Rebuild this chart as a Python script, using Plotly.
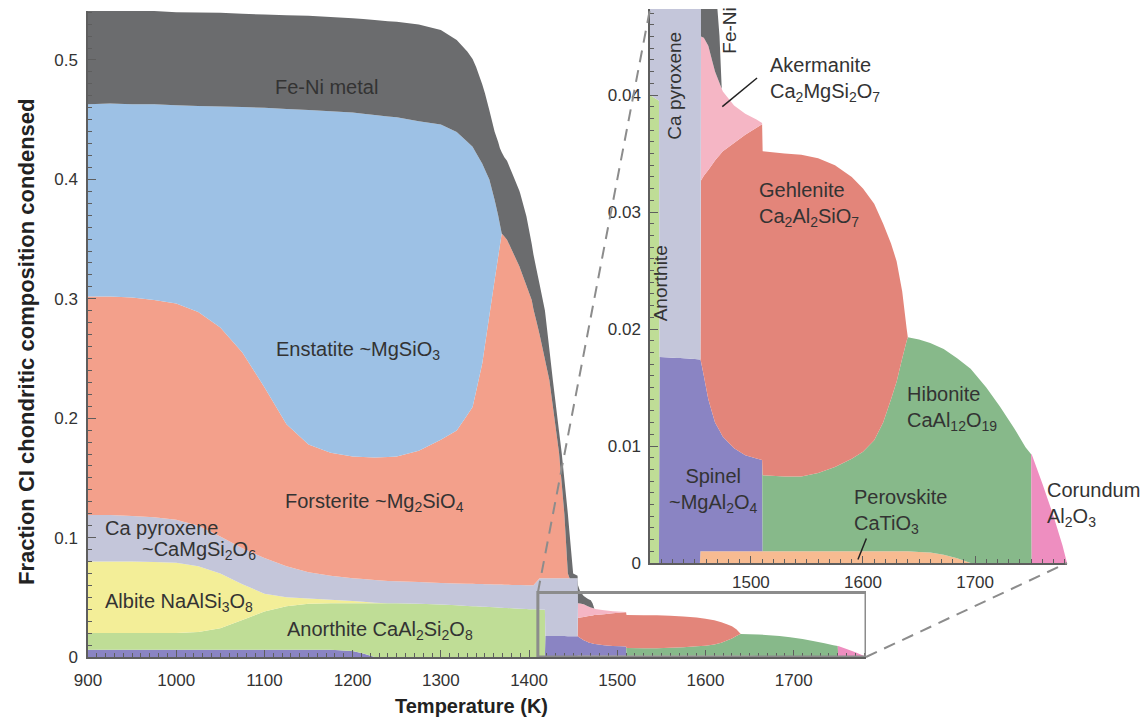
import plotly.graph_objects as go

W, H = 1143, 721

# ---------------- data (fraction of CI composition condensed, per phase) ----------------
perov_T = [1454.5, 1455, 1640, 1650, 1660, 1672, 1684, 1696]
perov_v = [0, 0.001, 0.001, 0.00095, 0.0009, 0.0007, 0.0004, 0]

spinel_T = [900, 1175, 1200, 1212, 1225, 1418, 1418.5, 1440, 1454.5, 1455, 1455.5, 1458, 1462,
            1468, 1475, 1485, 1495, 1510, 1510.5]
spinel_v = [0.006, 0.006, 0.005, 0.003, 0, 0, 0.0176, 0.0175, 0.0174, 0.0164, 0.0162, 0.015, 0.013,
            0.011, 0.0098, 0.0088, 0.0082, 0.0078, 0]

anorthite_T = [900, 1000, 1025, 1050, 1075, 1100, 1125, 1150, 1175, 1200, 1212, 1225, 1250, 1300,
               1350, 1400, 1410, 1418, 1418.5]
anorthite_v = [0.014, 0.014, 0.015, 0.018, 0.025, 0.032, 0.0365, 0.0385, 0.039, 0.040, 0.042, 0.045,
               0.045, 0.044, 0.042, 0.040, 0.040, 0.0395, 0]

hibonite_T = [1510, 1510.5, 1530, 1545, 1560, 1575, 1590, 1600, 1610, 1618, 1625, 1630, 1635, 1639,
              1640, 1650, 1660, 1672, 1684, 1696, 1710, 1722, 1735, 1745, 1750, 1750.5]
hibonite_v = [0, 0.0065, 0.0064, 0.0064, 0.0067, 0.0072, 0.0079, 0.0085, 0.0095, 0.011, 0.013, 0.0145,
              0.0165, 0.018, 0.0183, 0.01815, 0.0179, 0.0176, 0.0171, 0.0166, 0.0150, 0.0134, 0.0115,
              0.0099, 0.0093, 0]

corundum_T = [1750, 1750.5, 1760, 1770, 1778, 1782]
corundum_v = [0, 0.0093, 0.0068, 0.0040, 0.0015, 0]

albite_T = [900, 925, 950, 975, 1000, 1025, 1050, 1075, 1100, 1125, 1150, 1175, 1200, 1225, 1240]
albite_v = [0.060, 0.060, 0.060, 0.0595, 0.059, 0.055, 0.046, 0.030, 0.015, 0.0075, 0.0045, 0.003,
            0.002, 0.0005, 0]

gehlenite_T = [1455, 1455.5, 1458, 1462, 1468, 1475, 1485, 1495, 1510, 1510.5, 1530, 1545, 1560, 1575,
               1590, 1600, 1610, 1618, 1625, 1630, 1635, 1639, 1640]
gehlenite_v = [0, 0.0155, 0.0171, 0.0196, 0.0224, 0.0244, 0.0261, 0.0274, 0.0287, 0.0277, 0.0276,
               0.0275, 0.0269, 0.0258, 0.0241, 0.0225, 0.0202, 0.017, 0.0133, 0.0103, 0.0057, 0.001, 0]

akermanite_T = [1455, 1455.5, 1458, 1462, 1468, 1475, 1485, 1495, 1505, 1510, 1510.5]
akermanite_v = [0, 0.0123, 0.0118, 0.0106, 0.0076, 0.0051, 0.0032, 0.0018, 0.0007, 0.0001, 0]

pyroxene_T = [900, 925, 950, 975, 1000, 1025, 1050, 1075, 1100, 1125, 1150, 1175, 1200, 1225, 1250,
              1300, 1350, 1400, 1405, 1412, 1418, 1418.5, 1440, 1455, 1455.5]
pyroxene_v = [0.039, 0.039, 0.038, 0.0375, 0.036, 0.034, 0.031, 0.030, 0.030, 0.026, 0.022, 0.020,
              0.019, 0.019, 0.0185, 0.018, 0.019, 0.020, 0.020, 0.026, 0.0265, 0.0484, 0.0485, 0.0486, 0]

forsterite_T = [900, 925, 950, 975, 1000, 1025, 1050, 1075, 1100, 1125, 1150, 1175, 1200, 1225, 1250,
                1275, 1300, 1318, 1336, 1347, 1355, 1361, 1369, 1375, 1389, 1403, 1412, 1423, 1434,
                1440, 1444, 1446]
forsterite_v = [0.183, 0.183, 0.183, 0.182, 0.181, 0.179, 0.175, 0.164, 0.143, 0.119, 0.107, 0.103,
                0.102, 0.1025, 0.1045, 0.110, 0.120, 0.128, 0.148, 0.185, 0.225, 0.255, 0.294, 0.289,
                0.267, 0.239, 0.204, 0.166, 0.105, 0.054, 0.004, 0]

enstatite_T = [900, 950, 1000, 1025, 1050, 1075, 1100, 1125, 1150, 1175, 1200, 1225, 1250, 1275, 1300,
               1318, 1336, 1347, 1355, 1361, 1365, 1369]
enstatite_v = [0.161, 0.162, 0.166, 0.1725, 0.185, 0.2055, 0.234, 0.264, 0.280, 0.286, 0.288, 0.287,
               0.284, 0.276, 0.264, 0.250, 0.218, 0.167, 0.114, 0.067, 0.0345, 0]

feni_T = [900, 950, 1000, 1050, 1100, 1150, 1200, 1250, 1275, 1300, 1318, 1330, 1340, 1350, 1355, 1361,
          1367, 1369, 1372, 1381, 1390, 1397, 1403, 1408, 1412, 1418, 1423, 1427, 1434, 1437, 1440,
          1444, 1446, 1450, 1455, 1455.5, 1458, 1462, 1466, 1470, 1472, 1474]
feni_v = [0.078, 0.078, 0.078, 0.0785, 0.078, 0.079, 0.079, 0.080, 0.081, 0.079, 0.077, 0.0757, 0.072,
          0.064, 0.058, 0.057, 0.064, 0.068, 0.0665, 0.065, 0.063, 0.058, 0.047, 0.044, 0.042, 0.041,
          0.026, 0.022, 0.018, 0.0255, 0.029, 0.050, 0.037, 0.004, 0.002, 0.015, 0.010, 0.0068, 0.0062,
          0.006, 0.004, 0]

# stacking order bottom -> top
phases = [
    ("Perovskite", perov_T, perov_v, "#f7bb91"),
    ("Spinel", spinel_T, spinel_v, "#8a84c3"),
    ("Anorthite", anorthite_T, anorthite_v, "#bfdd96"),
    ("Hibonite", hibonite_T, hibonite_v, "#87b98a"),
    ("Corundum", corundum_T, corundum_v, "#ee8ec0"),
    ("Albite", albite_T, albite_v, "#f3ee98"),
    ("Gehlenite", gehlenite_T, gehlenite_v, "#e3857a"),
    ("Akermanite", akermanite_T, akermanite_v, "#f5b6c5"),
    ("Ca pyroxene", pyroxene_T, pyroxene_v, "#c4c6da"),
    ("Forsterite", forsterite_T, forsterite_v, "#f3a08b"),
    ("Enstatite", enstatite_T, enstatite_v, "#9dc1e5"),
    ("Fe-Ni metal", feni_T, feni_v, "#6b6c6e"),
]

main_xticks = [900, 1000, 1100, 1200, 1300, 1400, 1500, 1600, 1700]
main_yticks = [0, 0.1, 0.2, 0.3, 0.4, 0.5]
main_ytext = ["0", "0.1", "0.2", "0.3", "0.4", "0.5"]
inset_xticks = [1500, 1600, 1700]
inset_yticks = [0, 0.01, 0.02, 0.03, 0.04]
inset_ytext = ["0", "0.01", "0.02", "0.03", "0.04"]

# ---------------- geometry ----------------
MX = [88 / W, 866 / W]
MY = [1 - 657 / H, 1 - 11 / H]
IX = [650 / W, 1067 / W]
IY = [1 - 563 / H, 1 - 9 / H]
MXR = [900, 1782]
MYR = [0, 0.541]
IXR = [1410, 1782]
IYR = [0, 0.04735]
BOX_TOP = 0.054

FONT = "Liberation Sans, Arial, Helvetica, sans-serif"
TXT = "#333333"
AX = "#5e5e5e"

fig = go.Figure()
for sg, xa, ya in (("main", "x", "y"), ("inset", "x2", "y2")):
    for name, T, v, c in phases:
        fig.add_trace(go.Scatter(
            x=T, y=v, name=name, stackgroup=sg, stackgaps="interpolate",
            mode="none", fillcolor=c, xaxis=xa, yaxis=ya,
            hoverinfo="skip", showlegend=False))


def axis_common(**kw):
    d = dict(showline=True, linecolor=AX, linewidth=1.5, ticks="inside", tickcolor=AX,
             tickwidth=1, showgrid=False, zeroline=False, automargin=False,
             tickfont=dict(family=FONT, size=17, color=TXT))
    d.update(kw)
    return d


fig.update_layout(
    width=W, height=H, margin=dict(l=0, r=0, t=0, b=0, pad=0, autoexpand=False),
    paper_bgcolor="white", plot_bgcolor="white", showlegend=False,
    font=dict(family=FONT, color=TXT),
    xaxis=axis_common(domain=MX, range=MXR, anchor="y", tickvals=main_xticks, ticklen=7,
                      ticklabelstandoff=7,
                      minor=dict(ticks="inside", tick0=900, dtick=10, ticklen=4, tickcolor=AX)),
    yaxis=axis_common(domain=MY, range=MYR, anchor="x", tickvals=main_yticks, ticktext=main_ytext,
                      ticklen=8, ticklabelstandoff=5,
                      minor=dict(ticks="inside", tick0=0, dtick=0.01, ticklen=4, tickcolor=AX)),
    xaxis2=axis_common(domain=IX, range=IXR, anchor="y2", tickvals=inset_xticks, ticklen=7,
                       ticklabelstandoff=3,
                       minor=dict(ticks="inside", tick0=1400, dtick=10, ticklen=4, tickcolor=AX)),
    yaxis2=axis_common(domain=IY, range=IYR, anchor="x2", tickvals=inset_yticks, ticktext=inset_ytext,
                       ticklen=8, ticklabelstandoff=4,
                       minor=dict(ticks="inside", tick0=0, dtick=0.001, ticklen=4, tickcolor=AX)),
)


def mpx(T):
    return MX[0] + (T - MXR[0]) / (MXR[1] - MXR[0]) * (MX[1] - MX[0])


def mpy(v):
    return MY[0] + (v - MYR[0]) / (MYR[1] - MYR[0]) * (MY[1] - MY[0])


shapes = [
    dict(type="rect", xref="x", yref="y", x0=IXR[0], x1=IXR[1], y0=0, y1=BOX_TOP,
         line=dict(color="#8c8c8c", width=3), layer="above"),
    dict(type="line", xref="paper", yref="paper", x0=mpx(IXR[0]), y0=mpy(BOX_TOP), x1=IX[0], y1=IY[1],
         line=dict(color="#8c8c8c", width=2, dash="12px,8px"), layer="above"),
    dict(type="line", xref="paper", yref="paper", x0=mpx(IXR[1]), y0=MY[0], x1=IX[1], y1=IY[0],
         line=dict(color="#8c8c8c", width=2, dash="12px,8px"), layer="above"),
    # leader lines in the inset
    dict(type="line", xref="x2", yref="y2", x0=1505.5, y0=0.04145, x1=1474.5, y1=0.0390,
         line=dict(color="#222222", width=1.5), layer="above"),
    dict(type="line", xref="x2", yref="y2", x0=1603, y0=0.0021, x1=1595.5, y1=0.0003,
         line=dict(color="#222222", width=1.5), layer="above"),
]

LS = 20


def ann(text, x, y, ref="", xanchor="center", align="center", angle=0, size=LS):
    return dict(text=text, x=x, y=y, xref="x" + ref, yref="y" + ref, showarrow=False,
                xanchor=xanchor, yanchor="middle", align=align, textangle=angle,
                font=dict(family=FONT, size=size, color=TXT))


annotations = [
    ann("Fe-Ni metal", 1170, 0.4774),
    ann("Enstatite ~MgSiO<sub>3</sub>", 1206, 0.2571),
    ann("Forsterite ~Mg<sub>2</sub>SiO<sub>4</sub>", 1225, 0.129),
    ann("Ca pyroxene", 917, 0.108, xanchor="left"),
    ann("~CaMgSi<sub>2</sub>O<sub>6</sub>", 959, 0.0896, xanchor="left"),
    ann("Albite NaAlSi<sub>3</sub>O<sub>8</sub>", 917, 0.046, xanchor="left"),
    ann("Anorthite CaAl<sub>2</sub>Si<sub>2</sub>O<sub>8</sub>", 1231, 0.0226),
    # inset
    ann("Ca pyroxene", 1432.3, 0.0408, ref="2", angle=-90, size=19),
    ann("Fe-Ni", 1481.4, 0.0455, ref="2", angle=-90, size=19),
    ann("Anorthite", 1418.9, 0.0239, ref="2", angle=-90, size=19),
    ann("Akermanite<br>Ca<sub>2</sub>MgSi<sub>2</sub>O<sub>7</sub>", 1515.3, 0.0413, ref="2",
        xanchor="left", align="left"),
    ann("Gehlenite<br>Ca<sub>2</sub>Al<sub>2</sub>SiO<sub>7</sub>", 1505.4, 0.0306, ref="2",
        xanchor="left", align="left"),
    ann("Hibonite<br>CaAl<sub>12</sub>O<sub>19</sub>", 1637.5, 0.0132, ref="2",
        xanchor="left", align="left"),
    ann("Spinel<br>~MgAl<sub>2</sub>O<sub>4</sub>", 1467, 0.0062, ref="2"),
    ann("Perovskite<br>CaTiO<sub>3</sub>", 1590.2, 0.0044, ref="2", xanchor="left", align="left"),
    ann("Corundum<br>Al<sub>2</sub>O<sub>3</sub>", 1762.4, 0.0050, ref="2", xanchor="left", align="left"),
    # axis titles
    dict(text="<b>Fraction CI chondritic composition condensed</b>", x=26 / W, y=1 - 342 / H,
         xref="paper", yref="paper", showarrow=False, textangle=-90, xanchor="center",
         yanchor="middle", font=dict(family=FONT, size=22, color="#222222")),
    dict(text="<b>Temperature (K)</b>", x=471 / W, y=1 - 706 / H, xref="paper", yref="paper",
         showarrow=False, xanchor="center", yanchor="middle",
         font=dict(family=FONT, size=20, color="#222222")),
]

fig.update_layout(shapes=shapes, annotations=annotations)
fig.write_html("out.html", config={"displayModeBar": False},
               post_script="document.body.style.margin='0';document.body.style.padding='0';")
